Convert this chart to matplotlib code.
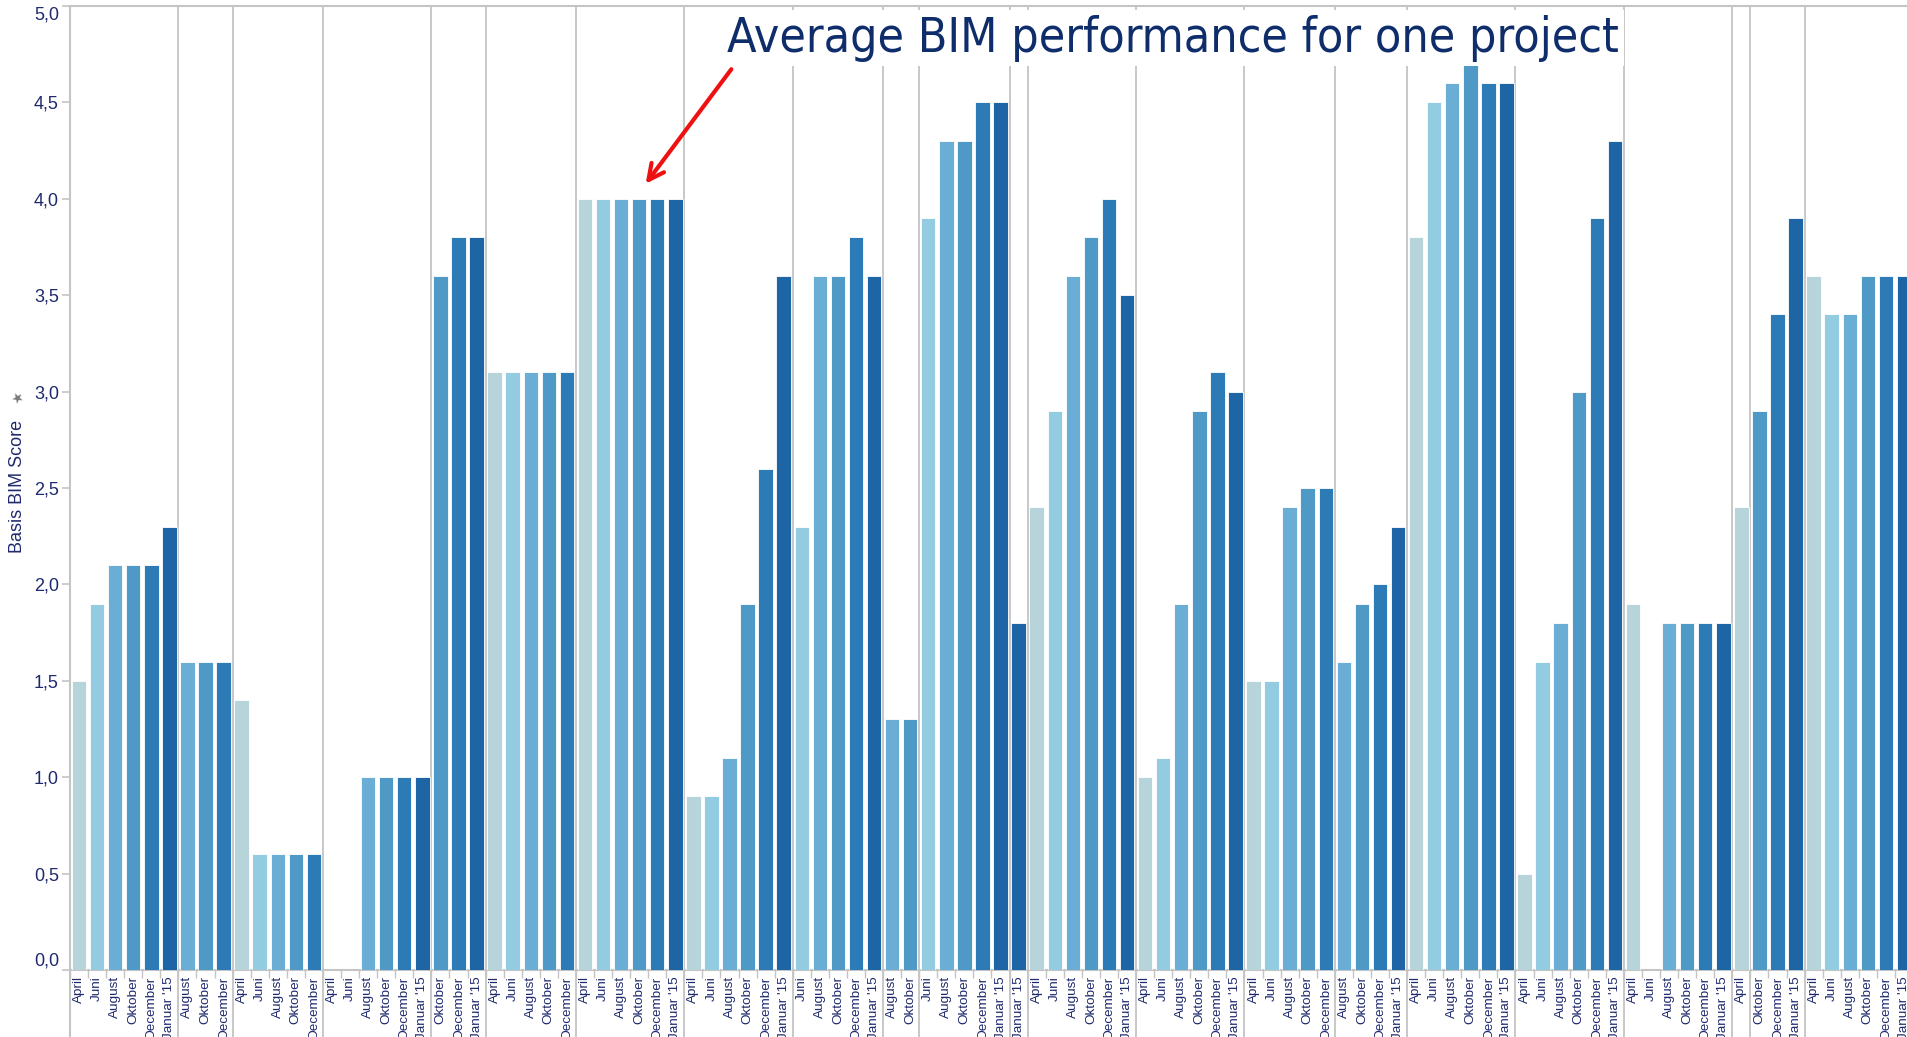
import numpy as np
import matplotlib
matplotlib.use("Agg")
import matplotlib.pyplot as plt
from matplotlib.patches import FancyArrowPatch


MONTHS = ["April", "Juni", "August", "Oktober", "December", "Januar '15"]
MONTH_COLORS = ["#b6d4da", "#93cbe0", "#6aaed6", "#4f99c6", "#2c7bb7", "#1d65a5"]

# one list of months + one list of scores per project (None = no bar)
group_months = [
    ["April", "Juni", "August", "Oktober", "December", "Januar '15"],
    ["August", "Oktober", "December"],
    ["April", "Juni", "August", "Oktober", "December"],
    ["April", "Juni", "August", "Oktober", "December", "Januar '15"],
    ["Oktober", "December", "Januar '15"],
    ["April", "Juni", "August", "Oktober", "December"],
    ["April", "Juni", "August", "Oktober", "December", "Januar '15"],
    ["April", "Juni", "August", "Oktober", "December", "Januar '15"],
    ["Juni", "August", "Oktober", "December", "Januar '15"],
    ["August", "Oktober"],
    ["Juni", "August", "Oktober", "December", "Januar '15"],
    ["Januar '15"],
    ["April", "Juni", "August", "Oktober", "December", "Januar '15"],
    ["April", "Juni", "August", "Oktober", "December", "Januar '15"],
    ["April", "Juni", "August", "Oktober", "December"],
    ["August", "Oktober", "December", "Januar '15"],
    ["April", "Juni", "August", "Oktober", "December", "Januar '15"],
    ["April", "Juni", "August", "Oktober", "December", "Januar '15"],
    ["April", "Juni", "August", "Oktober", "December", "Januar '15"],
    ["April"],
    ["Oktober", "December", "Januar '15"],
    ["April", "Juni", "August", "Oktober", "December", "Januar '15"],
]
group_scores = [
    [1.5, 1.9, 2.1, 2.1, 2.1, 2.3],
    [1.6, 1.6, 1.6],
    [1.4, 0.6, 0.6, 0.6, 0.6],
    [None, None, 1.0, 1.0, 1.0, 1.0],
    [3.6, 3.8, 3.8],
    [3.1, 3.1, 3.1, 3.1, 3.1],
    [4.0, 4.0, 4.0, 4.0, 4.0, 4.0],
    [0.9, 0.9, 1.1, 1.9, 2.6, 3.6],
    [2.3, 3.6, 3.6, 3.8, 3.6],
    [1.3, 1.3],
    [3.9, 4.3, 4.3, 4.5, 4.5],
    [1.8],
    [2.4, 2.9, 3.6, 3.8, 4.0, 3.5],
    [1.0, 1.1, 1.9, 2.9, 3.1, 3.0],
    [1.5, 1.5, 2.4, 2.5, 2.5],
    [1.6, 1.9, 2.0, 2.3],
    [3.8, 4.5, 4.6, 4.7, 4.6, 4.6],
    [0.5, 1.6, 1.8, 3.0, 3.9, 4.3],
    [1.9, None, 1.8, 1.8, 1.8, 1.8],
    [2.4],
    [2.9, 3.4, 3.9],
    [3.6, 3.4, 3.4, 3.6, 3.6, 3.6],
]

NAVY = "#1f2a6e"
GRID = "#c4c4c4"
W, H = 1907, 1037

fig = plt.figure(figsize=(W / 100, H / 100), dpi=100)
ax = fig.add_axes([70 / W, 67 / H, 1843 / W, 964 / H])

labels = []
x = 0
bounds = []
for months, scores in zip(group_months, group_scores):
    for m, s in zip(months, scores):
        labels.append(m)
        if s is not None:
            c = MONTH_COLORS[MONTHS.index(m)]
            ax.bar(x, s, width=0.8, color=c, edgecolor="white", linewidth=0.6, zorder=3)
        x += 1
    bounds.append(x - 0.5)

n = len(labels)
ax.set_xlim(-0.5, n - 0.5)
ax.set_ylim(0, 5)

# project separators, running down through the label area
for b in bounds[:-1]:
    ax.plot([b, b], [-0.1, 1], color=GRID, lw=1.3, transform=ax.get_xaxis_transform(),
            clip_on=False, zorder=1)
ax.plot([-0.5, -0.5], [-0.1, 1], color=GRID, lw=1.5, transform=ax.get_xaxis_transform(),
        clip_on=False, zorder=1)

for side in ["left", "right"]:
    ax.spines[side].set_visible(False)
ax.spines["top"].set_color(GRID)
ax.spines["top"].set_linewidth(1.5)
ax.spines["bottom"].set_color(GRID)
ax.spines["bottom"].set_linewidth(1.5)

ax.set_xticks(np.arange(n))
ax.set_xticklabels(labels, rotation=90, fontsize=9.7, color=NAVY,
                   family="Liberation Sans", va="top")
ax.tick_params(axis="x", which="major", length=0, pad=4.5)
ax.set_xticks(np.arange(n + 1) - 0.5, minor=True)
ax.tick_params(axis="x", which="minor", length=6, color=GRID, width=1)

yt = np.arange(0, 5.01, 0.5)
ax.set_yticks(yt)
ylabels = ax.set_yticklabels([f"{v:.1f}".replace(".", ",") for v in yt], fontsize=13,
                             color=NAVY, family="Liberation Sans")
ylabels[0].set_va("bottom")
ylabels[-1].set_va("top")
ax.tick_params(axis="y", length=6, color=GRID, width=1.2, pad=2)

fig.text(18 / W, 1 - 486 / H, "Basis BIM Score", rotation=90, ha="center", va="center",
         fontsize=13, color=NAVY, family="Liberation Sans")
fig.text(17 / W, 1 - 398 / H, "\u2605", rotation=30, ha="center", va="center",
         fontsize=10, color="#7a7a7a")

title = fig.text(727 / W, 1 - 38 / H, "Average BIM performance for one project",
                 ha="left", va="center", fontsize=30, color="#0e2d6a",
                 family="DejaVu Sans", fontstretch="condensed",
                 bbox=dict(facecolor="white", edgecolor="none", pad=3))
# fit title width to the reference (~893 px)
fig.canvas.draw()
wpx = title.get_window_extent().width
title.set_fontsize(30 * 893 / wpx)

arrow = FancyArrowPatch((733 / W, 1 - 67 / H), (644 / W, 1 - 186 / H),
                        transform=fig.transFigure, arrowstyle="->", mutation_scale=28,
                        color="#ee1111", lw=3)
fig.add_artist(arrow)

fig.savefig("out.png", dpi=100)
